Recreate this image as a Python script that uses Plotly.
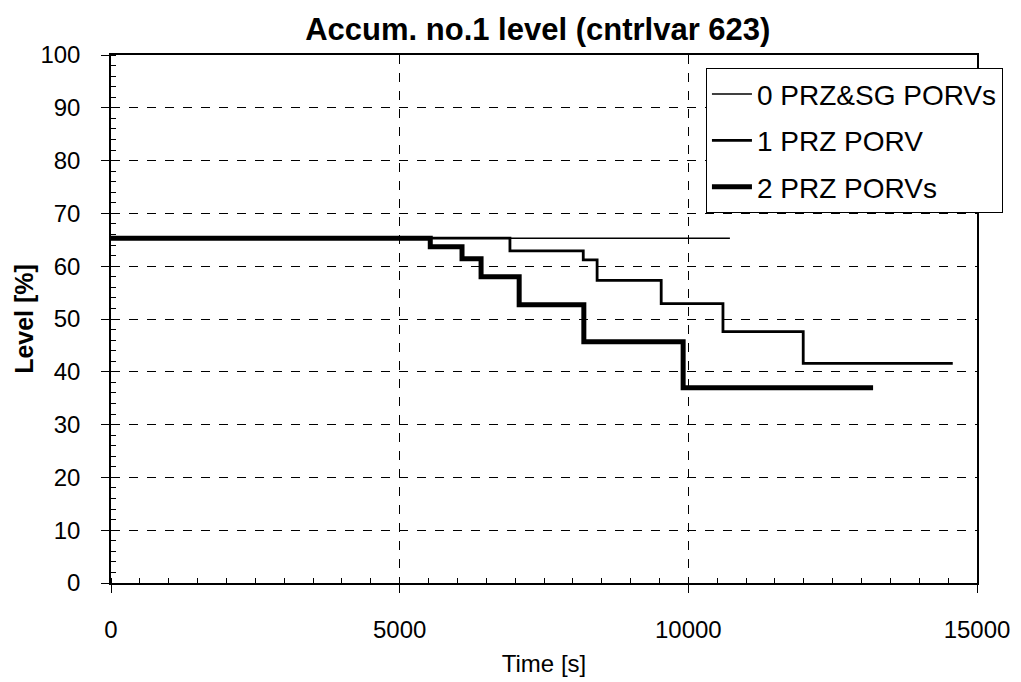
import plotly.graph_objects as go

# Data
t0 = [0, 10720]
y0 = [65.3, 65.3]

t1 = [0, 6910, 8180, 8420, 9530, 10600, 11990, 14580]
y1 = [65.3, 62.9, 61.2, 57.3, 52.9, 47.6, 41.6, 41.6]

t2 = [0, 5530, 6080, 6410, 7070, 8190, 9910, 13200]
y2 = [65.3, 63.7, 61.4, 58.0, 52.7, 45.7, 37.0, 37.0]

names = ["0 PRZ&SG PORVs", "1 PRZ PORV", "2 PRZ PORVs"]
title = "Accum. no.1 level (cntrlvar 623)"
xtitle = "Time [s]"
ytitle = "Level [%]"
xticks = [0, 5000, 10000, 15000]
xticklabels = ["0", "5000", "10000", "15000"]

FONT = "Liberation Sans, Arial, sans-serif"

fig = go.Figure()
for i, (t, y, n, w) in enumerate([(t0, y0, names[0], 1.5), (t1, y1, names[1], 2.8), (t2, y2, names[2], 5)]):
    fig.add_trace(go.Scatter(x=t, y=y, name=n, mode="lines", legendgroup=f"g{i}",
                             line=dict(color="black", width=w, shape="hv")))

axis_common = dict(
    showline=True, linecolor="black", linewidth=1.5, mirror=True,
    showgrid=True, gridcolor="black", gridwidth=1, griddash="dash",
    zeroline=False, automargin=False,
    ticks="outside", ticklen=8, tickcolor="black",
    tickfont=dict(family=FONT, size=24, color="black"),
)

fig.update_xaxes(range=[0, 15000], tickvals=xticks, ticktext=xticklabels,
                 ticklabelstandoff=16,
                 minor=dict(dtick=500, ticks="inside", ticklen=5, tickcolor="black", showgrid=False),
                 title=dict(text=xtitle, font=dict(family=FONT, size=24, color="black"), standoff=14),
                 **axis_common)
fig.update_yaxes(range=[0, 100], dtick=10, ticklabelstandoff=16,
                 minor=dict(dtick=2, ticks="inside", ticklen=5, tickcolor="black", showgrid=False),
                 title=dict(text="<b>" + ytitle + "</b>", font=dict(family=FONT, size=25, color="black"), standoff=0),
                 **axis_common)

fig.update_layout(
    width=1013, height=674,
    margin=dict(l=103, r=44, t=47, b=99),
    paper_bgcolor="white", plot_bgcolor="white",
    title=dict(text="<b>" + title + "</b>", x=0.523, xanchor="center", y=0.969, yanchor="middle",
               font=dict(family=FONT, size=31, color="black")),
    legend=dict(x=0.687, y=0.975, xanchor="left", yanchor="top",
                bgcolor="white", bordercolor="black", borderwidth=1,
                font=dict(family=FONT, size=28, color="black"),
                tracegroupgap=7, itemwidth=40),
    showlegend=True,
)

fig.write_html("out.html")
